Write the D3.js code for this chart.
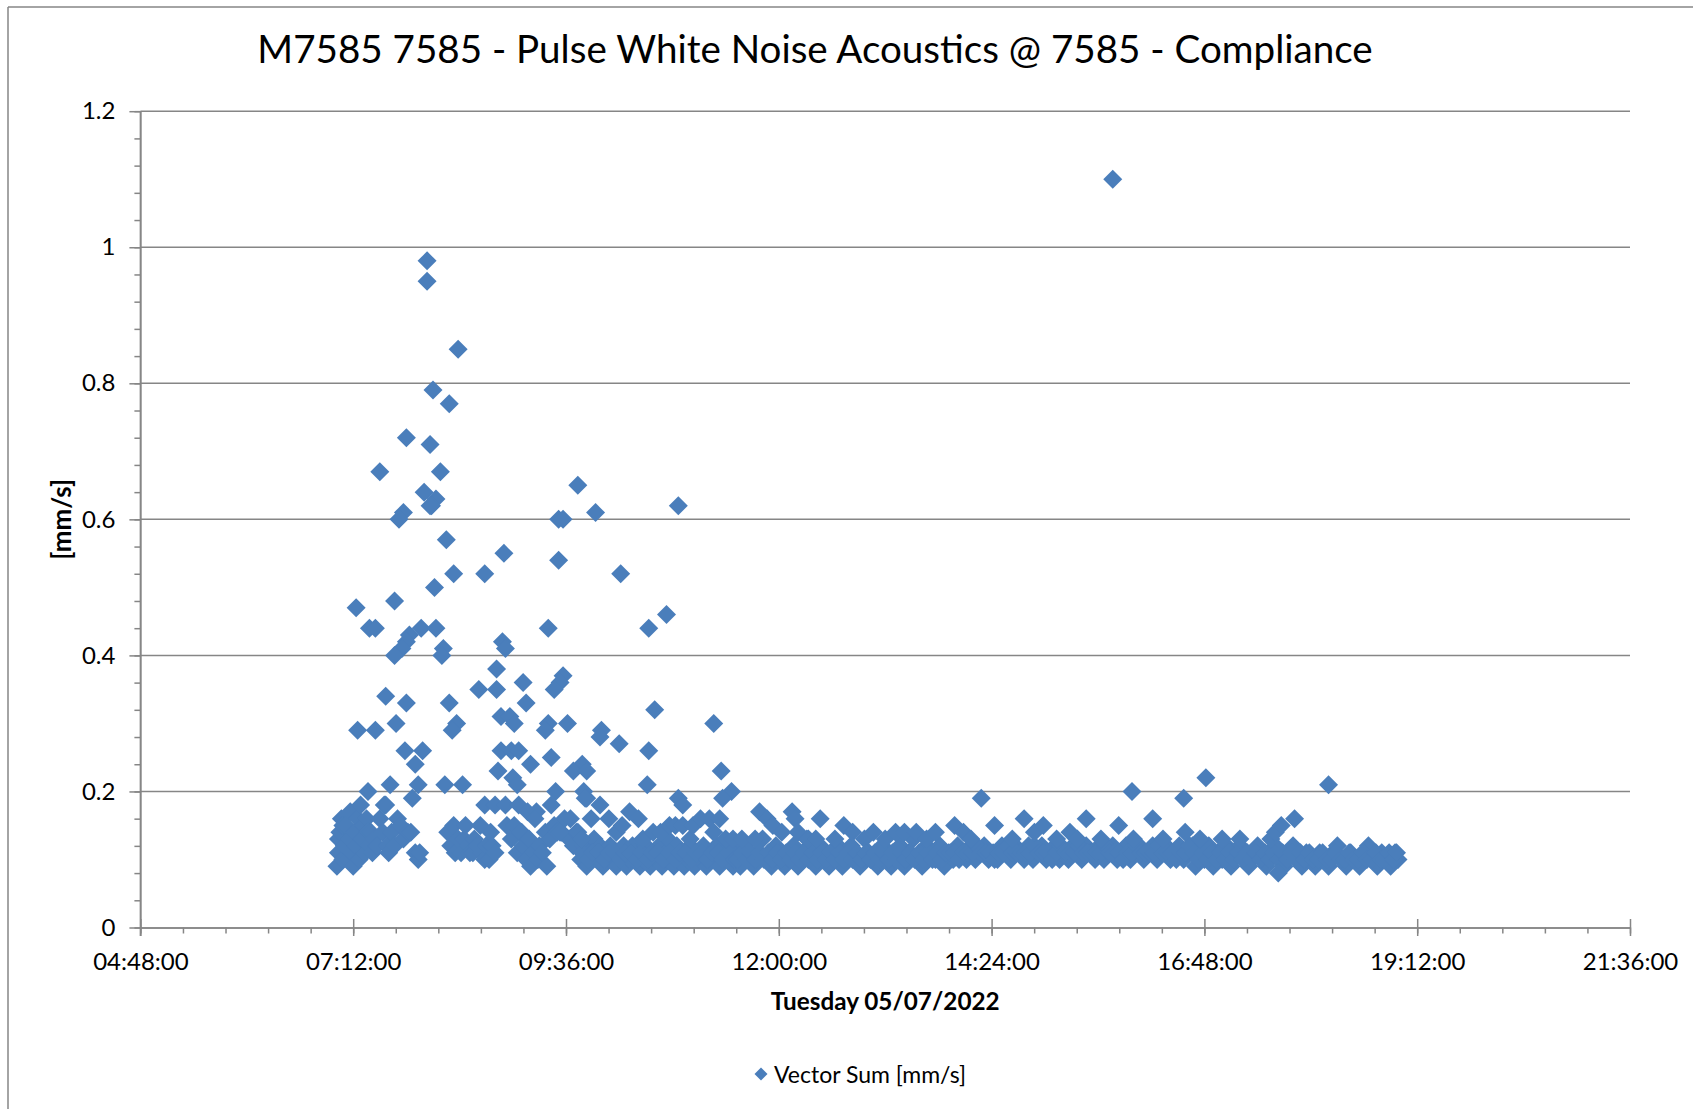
<!DOCTYPE html>
<html>
<head>
<meta charset="utf-8">
<script src="https://cdn.jsdelivr.net/npm/d3@7"></script>
<style>
  body { margin: 0; background: #fff; }
  svg text { font-family: Lato, "Noto Sans", sans-serif; fill: #000; }
</style>
</head>
<body>
<div id="main"></div>
<script>
'use strict';

var chartTitle = 'M7585 7585 - Pulse White Noise Acoustics @ 7585 - Compliance';
var xTitle = 'Tuesday 05/07/2022';
var yTitle = '[mm/s]';
var seriesName = 'Vector Sum [mm/s]';

var xTickLabels = ['04:48:00', '07:12:00', '09:36:00', '12:00:00', '14:24:00', '16:48:00', '19:12:00', '21:36:00'];
var yTickValues = [0, 0.2, 0.4, 0.6, 0.8, 1, 1.2];

// big spikes, mostly morning
var peakPoints = [
  ['15:46', 1.10], ['08:02', 0.98], ['08:02', 0.95], ['08:23', 0.85], ['08:06', 0.79], ['08:17', 0.77],
  ['07:48', 0.72], ['08:04', 0.71], ['07:30', 0.67], ['08:11', 0.67], ['09:44', 0.65], ['08:00', 0.64],
  ['08:08', 0.63], ['08:05', 0.62], ['08:04', 0.62], ['10:52', 0.62], ['07:46', 0.61], ['07:43', 0.60],
  ['09:56', 0.61], ['09:31', 0.60], ['09:34', 0.60], ['08:15', 0.57], ['08:54', 0.55], ['09:31', 0.54],
  ['08:20', 0.52], ['08:41', 0.52], ['10:13', 0.52], ['08:07', 0.50], ['07:40', 0.48], ['07:14', 0.47],
  ['10:44', 0.46], ['07:23', 0.44], ['07:27', 0.44], ['07:58', 0.44], ['08:08', 0.44], ['09:24', 0.44],
  ['10:32', 0.44], ['07:50', 0.43], ['07:48', 0.42], ['08:53', 0.42], ['07:45', 0.41], ['08:13', 0.41],
  ['08:55', 0.41], ['07:40', 0.40], ['08:12', 0.40]
];

var lowerPeaks = [
  ['08:49', 0.38], ['09:34', 0.37], ['09:07', 0.36], ['09:32', 0.36], ['08:37', 0.35], ['08:49', 0.35],
  ['09:28', 0.35], ['07:34', 0.34], ['07:48', 0.33], ['08:17', 0.33], ['09:09', 0.33], ['10:36', 0.32],
  ['08:52', 0.31], ['08:58', 0.31], ['07:41', 0.30], ['08:22', 0.30], ['09:01', 0.30], ['09:24', 0.30],
  ['09:37', 0.30], ['11:16', 0.30], ['07:15', 0.29], ['07:27', 0.29], ['08:19', 0.29], ['09:22', 0.29],
  ['10:00', 0.29], ['09:59', 0.28], ['10:12', 0.27], ['07:47', 0.26], ['07:59', 0.26], ['08:52', 0.26],
  ['08:59', 0.26], ['09:04', 0.26], ['10:32', 0.26], ['09:26', 0.25], ['07:54', 0.24], ['09:12', 0.24],
  ['09:47', 0.24], ['08:50', 0.23], ['09:41', 0.23], ['09:50', 0.23], ['11:21', 0.23], ['09:00', 0.22],
  ['09:03', 0.21], ['07:37', 0.21], ['07:56', 0.21], ['08:14', 0.21], ['08:26', 0.21], ['10:31', 0.21],
  ['07:22', 0.20], ['09:29', 0.20], ['09:48', 0.20], ['11:28', 0.20], ['07:52', 0.19], ['09:50', 0.19],
  ['10:52', 0.19], ['10:55', 0.18], ['11:22', 0.19], ['09:49', 0.19], ['09:59', 0.18], ['09:26', 0.18],
  ['14:17', 0.19], ['15:59', 0.20], ['16:34', 0.19], ['16:49', 0.22], ['18:12', 0.21]
];

// morning clumps before the steady band
var clusterPoints = [
  ['07:01', 0.09], ['07:02', 0.11], ['07:02', 0.13], ['07:03', 0.14], ['07:04', 0.16], ['07:05', 0.10],
  ['07:05', 0.15], ['07:06', 0.12], ['07:07', 0.15], ['07:08', 0.10], ['07:09', 0.13], ['07:10', 0.17],
  ['07:11', 0.11], ['07:12', 0.09], ['07:13', 0.14], ['07:14', 0.12], ['07:15', 0.16], ['07:16', 0.10],
  ['07:17', 0.18], ['07:18', 0.13], ['07:19', 0.15], ['07:20', 0.11], ['07:21', 0.16], ['07:22', 0.14],
  ['07:23', 0.12], ['07:24', 0.14], ['07:25', 0.11], ['07:26', 0.13], ['07:28', 0.12], ['07:30', 0.16],
  ['07:32', 0.14], ['07:33', 0.18], ['07:34', 0.18], ['07:35', 0.12], ['07:36', 0.11], ['07:38', 0.14],
  ['07:40', 0.12], ['07:42', 0.16], ['07:44', 0.15], ['07:46', 0.13], ['07:49', 0.14], ['07:51', 0.14],
  ['07:54', 0.11], ['07:56', 0.10], ['07:57', 0.11],
  ['08:16', 0.14], ['08:18', 0.12], ['08:20', 0.15], ['08:21', 0.11], ['08:23', 0.13], ['08:25', 0.11],
  ['08:27', 0.13], ['08:28', 0.15], ['08:30', 0.12], ['08:31', 0.11], ['08:33', 0.11], ['08:34', 0.13],
  ['08:36', 0.12], ['08:38', 0.15], ['08:39', 0.11], ['08:41', 0.10], ['08:42', 0.12], ['08:44', 0.10],
  ['08:45', 0.14], ['08:46', 0.12], ['08:48', 0.11],
  ['08:41', 0.18], ['08:48', 0.18], ['08:55', 0.18], ['08:56', 0.15], ['09:04', 0.18], ['09:06', 0.14],
  ['09:10', 0.17], ['09:16', 0.17],
  ['08:59', 0.13], ['09:01', 0.15], ['09:03', 0.11], ['09:05', 0.14], ['09:07', 0.12], ['09:09', 0.10],
  ['09:11', 0.13], ['09:12', 0.09], ['09:14', 0.11], ['09:15', 0.16], ['09:17', 0.10], ['09:18', 0.12],
  ['09:20', 0.11], ['09:22', 0.14], ['09:23', 0.09], ['09:25', 0.13], ['09:28', 0.15], ['09:30', 0.14],
  ['09:33', 0.14], ['09:35', 0.16], ['09:38', 0.13], ['09:41', 0.12], ['09:43', 0.14]
];

// steady background level, 09:46 to 19:00
var bandPoints = [
  ['09:46', 0.10], ['09:48', 0.12], ['09:50', 0.09], ['09:52', 0.11], ['09:55', 0.13], ['09:57', 0.10],
  ['09:59', 0.12], ['10:01', 0.09], ['10:03', 0.11], ['10:06', 0.12], ['10:08', 0.10], ['10:10', 0.09],
  ['10:12', 0.11], ['10:15', 0.12], ['10:17', 0.09], ['10:19', 0.10], ['10:21', 0.12], ['10:23', 0.11],
  ['10:26', 0.09], ['10:28', 0.10], ['10:30', 0.12], ['10:33', 0.09], ['10:35', 0.11], ['10:37', 0.10],
  ['10:39', 0.12], ['10:41', 0.09], ['10:43', 0.11], ['10:45', 0.13], ['10:47', 0.10], ['10:49', 0.09],
  ['10:51', 0.12], ['10:54', 0.11], ['10:56', 0.09], ['10:58', 0.10], ['11:00', 0.12], ['11:03', 0.09],
  ['11:05', 0.11], ['11:07', 0.10], ['11:09', 0.12], ['11:11', 0.09], ['11:14', 0.11], ['11:16', 0.10],
  ['11:18', 0.12], ['11:20', 0.09], ['11:23', 0.11], ['11:25', 0.10], ['11:27', 0.12], ['11:29', 0.09],
  ['11:31', 0.11], ['11:34', 0.09], ['11:37', 0.12], ['11:40', 0.10], ['11:43', 0.09], ['11:46', 0.11],
  ['11:49', 0.13], ['11:52', 0.10], ['11:55', 0.09], ['11:58', 0.12], ['12:01', 0.11], ['12:04', 0.09],
  ['12:07', 0.10], ['12:10', 0.12], ['12:13', 0.09], ['12:16', 0.11], ['12:19', 0.13], ['12:22', 0.10],
  ['12:25', 0.09], ['12:28', 0.12], ['12:31', 0.11], ['12:34', 0.09], ['12:37', 0.10], ['12:40', 0.12],
  ['12:43', 0.09], ['12:46', 0.11], ['12:49', 0.12], ['12:52', 0.10], ['12:55', 0.09], ['12:58', 0.13],
  ['13:01', 0.11], ['13:04', 0.10], ['13:07', 0.09], ['13:10', 0.12], ['13:13', 0.11], ['13:16', 0.09],
  ['13:19', 0.10], ['13:22', 0.12], ['13:25', 0.09], ['13:28', 0.11], ['13:31', 0.13], ['13:34', 0.10],
  ['13:37', 0.09], ['13:40', 0.12], ['13:43', 0.11], ['13:46', 0.10], ['13:49', 0.12], ['13:52', 0.09],
  ['13:55', 0.11], ['13:58', 0.10], ['14:01', 0.12], ['14:04', 0.11], ['14:07', 0.10], ['14:10', 0.12],
  ['14:13', 0.10], ['14:16', 0.11], ['14:19', 0.12], ['14:22', 0.10], ['14:25', 0.11], ['14:28', 0.10],
  ['14:31', 0.12], ['14:34', 0.11], ['14:37', 0.10], ['14:40', 0.12], ['14:43', 0.11], ['14:46', 0.10],
  ['14:49', 0.12], ['14:52', 0.10], ['14:55', 0.11], ['14:58', 0.12], ['15:01', 0.10], ['15:04', 0.11],
  ['15:07', 0.12], ['15:10', 0.10], ['15:13', 0.11], ['15:16', 0.10], ['15:19', 0.12], ['15:22', 0.11],
  ['15:25', 0.10], ['15:28', 0.12], ['15:31', 0.11], ['15:34', 0.10], ['15:37', 0.12], ['15:40', 0.10],
  ['15:43', 0.11], ['15:46', 0.12], ['15:49', 0.10], ['15:52', 0.11], ['15:55', 0.12], ['15:58', 0.10],
  ['16:01', 0.11], ['16:04', 0.12], ['16:07', 0.10], ['16:10', 0.11], ['16:13', 0.12], ['16:16', 0.10],
  ['16:19', 0.11], ['16:22', 0.12], ['16:25', 0.10], ['16:28', 0.11], ['16:31', 0.12], ['16:34', 0.10],
  ['16:37', 0.11], ['16:40', 0.12], ['16:42', 0.09], ['16:45', 0.11], ['16:48', 0.10], ['16:51', 0.12],
  ['16:54', 0.09], ['16:57', 0.11], ['17:00', 0.10], ['17:03', 0.12], ['17:06', 0.09], ['17:09', 0.11],
  ['17:12', 0.12], ['17:15', 0.10], ['17:18', 0.09], ['17:21', 0.11], ['17:24', 0.12], ['17:27', 0.10],
  ['17:30', 0.09], ['17:33', 0.11], ['17:36', 0.12], ['17:39', 0.10], ['17:42', 0.09], ['17:45', 0.11],
  ['17:48', 0.12], ['17:51', 0.10], ['17:54', 0.09], ['17:57', 0.11], ['18:00', 0.10], ['18:03', 0.09],
  ['18:06', 0.11], ['18:09', 0.10], ['18:12', 0.09], ['18:15', 0.11], ['18:18', 0.12], ['18:21', 0.10],
  ['18:24', 0.09], ['18:27', 0.11], ['18:30', 0.10], ['18:33', 0.09], ['18:36', 0.11], ['18:39', 0.12],
  ['18:42', 0.10], ['18:45', 0.09], ['18:48', 0.11], ['18:51', 0.10], ['18:54', 0.09], ['18:57', 0.11],
  ['18:59', 0.10]
];

// readings logged between the band readings above
var bandFill = [
  ['09:47', 0.11], ['09:51', 0.10], ['09:54', 0.11], ['09:58', 0.11], ['10:02', 0.10], ['10:05', 0.11],
  ['10:09', 0.11], ['10:13', 0.10], ['10:16', 0.11], ['10:20', 0.11], ['10:24', 0.10], ['10:27', 0.11],
  ['10:31', 0.10], ['10:34', 0.11], ['10:38', 0.11], ['10:42', 0.10], ['10:46', 0.11], ['10:50', 0.10],
  ['10:53', 0.11], ['10:57', 0.11], ['11:01', 0.10], ['11:04', 0.11], ['11:08', 0.11], ['11:12', 0.10],
  ['11:15', 0.11], ['11:19', 0.11], ['11:22', 0.10], ['11:26', 0.11], ['11:30', 0.10],
  ['11:32', 0.10], ['11:35', 0.11], ['11:38', 0.10], ['11:41', 0.11], ['11:44', 0.10], ['11:47', 0.11],
  ['11:50', 0.10], ['11:53', 0.11], ['11:56', 0.10], ['11:59', 0.11], ['12:02', 0.10], ['12:05', 0.11],
  ['12:08', 0.10], ['12:11', 0.11], ['12:14', 0.10], ['12:17', 0.11], ['12:20', 0.10], ['12:23', 0.11],
  ['12:26', 0.10], ['12:29', 0.11], ['12:32', 0.10], ['12:35', 0.11], ['12:38', 0.10], ['12:41', 0.11],
  ['12:44', 0.10], ['12:47', 0.11], ['12:50', 0.10], ['12:53', 0.11], ['12:56', 0.10], ['12:59', 0.11],
  ['13:02', 0.10], ['13:05', 0.11], ['13:08', 0.10], ['13:11', 0.11], ['13:14', 0.10], ['13:17', 0.11],
  ['13:20', 0.10], ['13:23', 0.11], ['13:26', 0.10], ['13:29', 0.11], ['13:32', 0.10], ['13:35', 0.11],
  ['13:38', 0.10], ['13:41', 0.11], ['13:44', 0.10], ['13:47', 0.11], ['13:50', 0.10], ['13:53', 0.11],
  ['13:56', 0.11], ['13:59', 0.11], ['14:02', 0.10], ['14:05', 0.11], ['14:08', 0.11], ['14:11', 0.11],
  ['14:14', 0.12], ['14:17', 0.11], ['14:20', 0.11], ['14:23', 0.11], ['14:26', 0.10], ['14:29', 0.11],
  ['14:32', 0.11], ['14:35', 0.12], ['14:38', 0.11], ['14:41', 0.11], ['14:44', 0.11], ['14:47', 0.11],
  ['14:50', 0.11], ['14:53', 0.12], ['14:56', 0.11], ['14:59', 0.11], ['15:02', 0.11], ['15:05', 0.10],
  ['15:08', 0.11], ['15:11', 0.12], ['15:14', 0.11], ['15:17', 0.11], ['15:20', 0.11], ['15:23', 0.12],
  ['15:26', 0.11], ['15:29', 0.11], ['15:32', 0.11], ['15:35', 0.11], ['15:38', 0.11], ['15:41', 0.12],
  ['15:44', 0.11], ['15:47', 0.11], ['15:50', 0.11], ['15:53', 0.10], ['15:56', 0.11], ['15:59', 0.11],
  ['16:02', 0.12], ['16:05', 0.11], ['16:08', 0.11], ['16:11', 0.11], ['16:14', 0.11], ['16:17', 0.12],
  ['16:20', 0.11], ['16:23', 0.11], ['16:26', 0.11], ['16:29', 0.10], ['16:32', 0.11], ['16:35', 0.11],
  ['16:38', 0.12], ['16:41', 0.11], ['16:44', 0.10], ['16:47', 0.11], ['16:50', 0.10], ['16:53', 0.11],
  ['16:56', 0.10], ['16:59', 0.11], ['17:02', 0.10], ['17:05', 0.11], ['17:08', 0.10], ['17:11', 0.11],
  ['17:14', 0.10], ['17:17', 0.11], ['17:20', 0.10], ['17:23', 0.11], ['17:26', 0.10], ['17:29', 0.11],
  ['17:32', 0.10], ['17:35', 0.11], ['17:38', 0.10], ['17:41', 0.11], ['17:44', 0.10], ['17:47', 0.11],
  ['17:50', 0.10], ['17:53', 0.11], ['17:56', 0.10], ['17:59', 0.11], ['18:02', 0.10], ['18:05', 0.10],
  ['18:08', 0.11], ['18:11', 0.10], ['18:14', 0.10], ['18:17', 0.11], ['18:20', 0.10], ['18:23', 0.10],
  ['18:26', 0.11], ['18:29', 0.10], ['18:32', 0.10], ['18:35', 0.11], ['18:38', 0.10], ['18:41', 0.10],
  ['18:44', 0.11], ['18:47', 0.10], ['18:50', 0.10], ['18:53', 0.11], ['18:56', 0.10], ['18:58', 0.11]
];

// points sitting just above the band
var extraPoints = [
  ['09:32', 0.14], ['09:39', 0.16], ['09:44', 0.14], ['09:47', 0.13], ['09:53', 0.16], ['10:05', 0.16],
  ['10:10', 0.14], ['10:14', 0.15], ['10:19', 0.17], ['10:25', 0.16], ['10:28', 0.13], ['10:35', 0.14],
  ['10:40', 0.14], ['10:46', 0.15], ['10:50', 0.15], ['10:55', 0.15], ['11:00', 0.13], ['11:02', 0.15],
  ['11:07', 0.16], ['11:13', 0.16], ['11:16', 0.14], ['11:20', 0.16], ['11:24', 0.13], ['11:29', 0.13],
  ['11:35', 0.13], ['11:44', 0.13], ['11:47', 0.17], ['11:52', 0.16], ['11:56', 0.15], ['12:02', 0.14],
  ['12:09', 0.17], ['12:11', 0.16], ['12:13', 0.14], ['12:20', 0.13], ['12:25', 0.13], ['12:28', 0.16],
  ['12:38', 0.13], ['12:44', 0.15], ['12:50', 0.14], ['13:04', 0.14], ['13:12', 0.13], ['13:19', 0.14],
  ['13:25', 0.14], ['13:33', 0.14], ['13:40', 0.13], ['13:46', 0.14], ['13:59', 0.15], ['14:05', 0.14],
  ['14:10', 0.13], ['14:26', 0.15], ['14:38', 0.13], ['14:46', 0.16], ['14:53', 0.14], ['14:59', 0.15],
  ['15:08', 0.13], ['15:17', 0.14], ['15:22', 0.13], ['15:28', 0.16], ['15:38', 0.13], ['15:50', 0.15],
  ['16:00', 0.13], ['16:13', 0.16], ['16:20', 0.13], ['16:35', 0.14], ['16:45', 0.13], ['17:00', 0.13],
  ['17:12', 0.13], ['17:33', 0.13], ['17:36', 0.14], ['17:38', 0.08], ['17:40', 0.15], ['17:49', 0.16]
];

var width = 1693, height = 1109;
var margin = { left: 140.4, right: 1630, top: 111.2, bottom: 927.5 };
var blue = '#4a7ebb', axisGrey = '#868686';

function hours(s) {
  var p = s.split(':');
  return +p[0] + p[1] / 60 + (p[2] ? p[2] / 3600 : 0);
}

var xTicks = xTickLabels.map(hours);
var x = d3.scaleLinear().domain([xTicks[0], xTicks[xTicks.length - 1]]).range([margin.left, margin.right]);
var y = d3.scaleLinear().domain([0, 1.2]).range([margin.bottom, margin.top]);

var xMinor = d3.range(xTicks[0], xTicks[xTicks.length - 1] + 0.01, 0.48);
var yMinor = d3.range(0, 1.21, 0.04);

var svg = d3.select('#main').append('svg').attr('width', width).attr('height', height);

// chart frame (only left/top edges are visible)
svg.append('line').attr('x1', 8).attr('x2', 8).attr('y1', 7).attr('y2', height)
  .attr('stroke', axisGrey).attr('stroke-width', 1.5);
svg.append('line').attr('x1', 8).attr('x2', width).attr('y1', 7).attr('y2', 7)
  .attr('stroke', axisGrey).attr('stroke-width', 1.5);

// grid
svg.append('g').selectAll('line')
  .data(yTickValues.filter(function(d) { return d > 0; }))
  .enter().append('line')
  .attr('x1', margin.left).attr('x2', margin.right)
  .attr('y1', function(d) { return y(d); }).attr('y2', function(d) { return y(d); })
  .attr('stroke', axisGrey).attr('stroke-width', 1.5);

// minor ticks
svg.append('g').attr('transform', 'translate(0,' + margin.bottom + ')')
  .call(d3.axisBottom(x).tickValues(xMinor).tickSize(6).tickSizeOuter(0).tickFormat(''))
  .call(greyAxis);
svg.append('g').attr('transform', 'translate(' + margin.left + ',0)')
  .call(d3.axisLeft(y).tickValues(yMinor).tickSize(6).tickSizeOuter(0).tickFormat(''))
  .call(greyAxis);

// major ticks + labels
var xAxis = svg.append('g').attr('transform', 'translate(0,' + margin.bottom + ')')
  .call(d3.axisBottom(x).tickValues(xTicks).tickSize(8.5).tickSizeOuter(0).tickPadding(17)
    .tickFormat(function(d, i) { return xTickLabels[i]; }))
  .call(greyAxis);
xAxis.selectAll('.tick line').attr('y1', -8.5);

var yAxis = svg.append('g').attr('transform', 'translate(' + margin.left + ',0)')
  .call(d3.axisLeft(y).tickValues(yTickValues).tickSize(11).tickSizeOuter(0).tickPadding(14)
    .tickFormat(d3.format('')))
  .call(greyAxis);
yAxis.select('.domain').attr('d', 'M0,' + y(1.2) + 'V' + (margin.bottom + 8.5));

function greyAxis(g) {
  g.selectAll('path, line').attr('stroke', axisGrey).attr('stroke-width', 1.5);
  g.selectAll('text').style('font-size', '24px').style('font-family', 'Lato, sans-serif').attr('fill', '#000');
}

// points
var diamond = function(r) { return 'M0,' + (-r) + 'L' + r + ',0L0,' + r + 'L' + (-r) + ',0Z'; };
var allPoints = [].concat(clusterPoints, bandPoints, bandFill, extraPoints, lowerPeaks, peakPoints);

svg.append('g').selectAll('path')
  .data(allPoints).enter()
  .append('path')
  .attr('d', diamond(9.5))
  .attr('transform', function(d) { return 'translate(' + x(hours(d[0])) + ',' + y(d[1]) + ')'; })
  .attr('fill', blue);

// titles
svg.append('text').attr('x', 815).attr('y', 63).attr('text-anchor', 'middle')
  .style('font-size', '38.6px').text(chartTitle);
svg.append('text').attr('x', (margin.left + margin.right) / 2).attr('y', 1010).attr('text-anchor', 'middle')
  .style('font-size', '24.3px').style('font-weight', 'bold').text(xTitle);
svg.append('text').attr('transform', 'translate(71,' + ((margin.top + margin.bottom) / 2) + ') rotate(-90)')
  .attr('text-anchor', 'middle').style('font-size', '26px').style('font-weight', 'bold').text(yTitle);

// legend
var legend = svg.append('g').attr('transform', 'translate(761,1074)');
legend.append('path').attr('d', diamond(6.5)).attr('fill', blue);
legend.append('text').attr('x', 13).attr('y', 8.5).style('font-size', '23px').text(seriesName);
</script>
</body>
</html>
